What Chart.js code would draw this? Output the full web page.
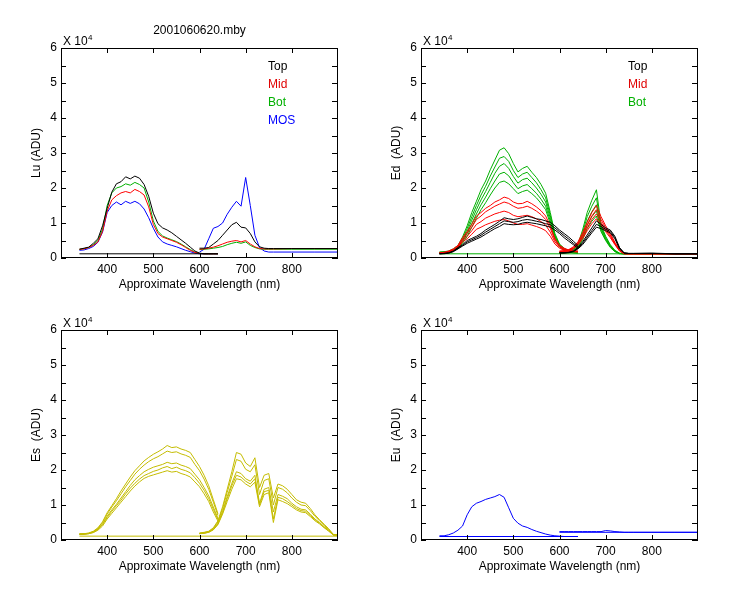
<!DOCTYPE html>
<html>
<head>
<meta charset="utf-8">
<script src="https://cdn.jsdelivr.net/npm/chart.js@4/dist/chart.umd.min.js"></script>
<style>
  body { margin: 0; background: #fff; }
  #wrap { position: relative; width: 750px; height: 600px; }
  canvas { position: absolute; }
</style>
</head>
<body>
<div id="wrap">
  <canvas id="lu" width="375" height="300" style="left:0;top:0"></canvas>
  <canvas id="ed" width="375" height="300" style="left:360px;top:0"></canvas>
  <canvas id="es" width="375" height="300" style="left:0;top:282px"></canvas>
  <canvas id="eu" width="375" height="300" style="left:360px;top:282px"></canvas>
</div>
<script>
// wavelengths (nm), values in units of 10^4 ADU
const wlA = [340,350,360,370,380,390,400,410,420,430,440,450,460,470,480,490,500,510,520,530,540,550,560,570,580,590,600,610,620,630,640];
const wlB = [600,610,620,630,640,650,660,670,680,690,700,710,720,730,740,750,760,770,780,790,800,810,820,830,840,850,860,870,880,890,900];
const wlBs = [600,610,620,630,640,650,660,670,680,690,700,710,720,730,740,750,760,800,850,900];
const xTicks = [400,500,600,700,800];
const yTicks = [0,0.5,1,1.5,2,2.5,3,3.5,4,4.5,5,5.5,6];

// Lu
const luTopA = [0.25,0.28,0.31,0.42,0.55,0.92,1.42,1.88,2.12,2.18,2.32,2.26,2.34,2.28,2.1,1.76,1.28,0.98,0.86,0.8,0.72,0.62,0.52,0.42,0.31,0.2,0.14,0.12,0.12,0.12,0.12];
const luMidA = [0.25,0.26,0.3,0.36,0.46,0.76,1.34,1.66,1.78,1.86,1.9,1.86,1.96,1.9,1.8,1.46,0.96,0.7,0.6,0.55,0.5,0.45,0.38,0.3,0.22,0.16,0.13,0.12,0.12,0.12,0.12];
const luBotA = [0.25,0.27,0.3,0.38,0.5,0.82,1.5,1.86,2.0,2.04,2.12,2.08,2.16,2.1,2.0,1.6,1.06,0.76,0.63,0.57,0.52,0.47,0.4,0.32,0.24,0.17,0.13,0.12,0.12,0.12,0.12];
const luMosA = [0.22,0.23,0.27,0.33,0.45,0.74,1.3,1.5,1.6,1.52,1.62,1.56,1.62,1.55,1.4,1.15,0.85,0.6,0.46,0.4,0.36,0.32,0.27,0.22,0.18,0.14,0.12,0.12,0.12,0.12,0.12];
const luTopB = [0.28,0.28,0.3,0.4,0.5,0.65,0.8,0.95,1.02,0.88,0.86,0.7,0.46,0.32,0.28,0.27,0.27,0.27,0.27,0.27];
const luMidB = [0.25,0.26,0.28,0.31,0.35,0.4,0.45,0.48,0.5,0.46,0.5,0.4,0.32,0.27,0.26,0.26,0.26,0.27,0.27,0.27];
const luBotB = [0.24,0.25,0.26,0.28,0.3,0.33,0.38,0.42,0.45,0.42,0.46,0.36,0.3,0.26,0.25,0.25,0.25,0.25,0.25,0.25];
const luMosB = [0.17,0.25,0.55,0.85,0.9,1.0,1.25,1.45,1.62,1.48,2.3,1.5,0.65,0.3,0.2,0.17,0.17,0.17,0.17,0.17];
const luFlatWl = [340,640];
const luFlat = [0.12,0.12];

// Ed
const edG1A = [0.17,0.18,0.2,0.26,0.36,0.6,0.92,1.3,1.62,1.95,2.2,2.52,2.8,3.08,3.15,2.98,2.7,2.46,2.56,2.62,2.45,2.3,2.1,1.85,1.3,0.7,0.4,0.28,0.2,0.17,0.15];
const edG2A = [0.16,0.17,0.19,0.24,0.33,0.55,0.84,1.18,1.5,1.8,2.05,2.34,2.6,2.85,2.9,2.76,2.5,2.3,2.4,2.45,2.3,2.15,1.95,1.72,1.22,0.66,0.38,0.26,0.19,0.16,0.15];
const edG3A = [0.16,0.17,0.18,0.22,0.3,0.5,0.76,1.08,1.38,1.66,1.9,2.16,2.42,2.62,2.7,2.56,2.33,2.14,2.24,2.28,2.15,2.0,1.82,1.6,1.14,0.62,0.36,0.25,0.19,0.16,0.15];
const edG4A = [0.15,0.16,0.17,0.21,0.28,0.46,0.7,0.98,1.26,1.52,1.74,1.98,2.2,2.4,2.45,2.35,2.15,1.98,2.06,2.1,1.98,1.85,1.68,1.48,1.06,0.58,0.34,0.24,0.18,0.15,0.14];
const edG5A = [0.15,0.15,0.16,0.2,0.26,0.42,0.62,0.88,1.14,1.38,1.58,1.8,2.0,2.16,2.2,2.12,1.98,1.84,1.9,1.94,1.84,1.72,1.56,1.38,0.98,0.54,0.32,0.23,0.17,0.15,0.14];
const edR1A = [0.15,0.16,0.2,0.26,0.36,0.58,0.76,0.96,1.2,1.3,1.42,1.5,1.6,1.66,1.74,1.7,1.6,1.55,1.56,1.62,1.55,1.46,1.35,1.2,0.92,0.56,0.36,0.28,0.23,0.2,0.2];
const edR2A = [0.15,0.16,0.19,0.24,0.34,0.54,0.7,0.88,1.1,1.2,1.32,1.4,1.48,1.54,1.6,1.56,1.48,1.42,1.44,1.48,1.42,1.34,1.24,1.1,0.85,0.52,0.34,0.26,0.22,0.2,0.19];
const edR3A = [0.14,0.15,0.18,0.22,0.31,0.5,0.62,0.78,0.96,1.04,1.14,1.2,1.26,1.3,1.34,1.3,1.22,1.18,1.2,1.22,1.18,1.12,1.04,0.94,0.74,0.46,0.31,0.24,0.2,0.19,0.18];
const edR4A = [0.14,0.15,0.17,0.21,0.29,0.46,0.55,0.68,0.82,0.88,0.95,1.0,1.05,1.08,1.1,1.06,1.0,0.96,0.96,0.98,0.94,0.9,0.85,0.78,0.62,0.4,0.28,0.22,0.19,0.18,0.17];
const edK1A = [0.12,0.13,0.15,0.2,0.3,0.38,0.5,0.56,0.62,0.7,0.8,0.88,0.96,1.05,1.15,1.12,1.1,1.12,1.16,1.2,1.16,1.12,1.1,1.06,1.02,0.92,0.8,0.7,0.6,0.48,0.36];
const edK2A = [0.12,0.13,0.14,0.19,0.28,0.36,0.46,0.52,0.58,0.65,0.74,0.82,0.9,0.98,1.06,1.04,1.02,1.04,1.08,1.1,1.08,1.05,1.02,0.98,0.95,0.86,0.75,0.64,0.54,0.42,0.32];
const edK3A = [0.12,0.12,0.14,0.18,0.26,0.34,0.42,0.48,0.54,0.6,0.68,0.76,0.84,0.9,0.98,0.96,0.95,0.96,1.0,1.02,1.0,0.98,0.95,0.92,0.88,0.8,0.7,0.58,0.48,0.38,0.28];
const edG1B = [0.15,0.17,0.2,0.26,0.4,0.8,1.3,1.65,1.95,0.95,0.62,0.38,0.22,0.14,0.12,0.12,0.12,0.12,0.12,0.12];
const edG2B = [0.15,0.16,0.19,0.24,0.36,0.72,1.18,1.48,1.72,0.9,0.58,0.36,0.2,0.13,0.12,0.12,0.12,0.12,0.12,0.12];
const edG3B = [0.14,0.16,0.18,0.23,0.33,0.65,1.05,1.32,1.52,0.85,0.55,0.34,0.2,0.13,0.12,0.12,0.12,0.12,0.12,0.12];
const edG4B = [0.14,0.15,0.17,0.21,0.3,0.58,0.94,1.18,1.35,0.8,0.52,0.32,0.19,0.13,0.12,0.12,0.12,0.12,0.12,0.12];
const edG5B = [0.14,0.15,0.16,0.2,0.28,0.52,0.84,1.05,1.2,0.75,0.5,0.3,0.18,0.12,0.12,0.12,0.12,0.12,0.12,0.12];
const edR1B = [0.2,0.21,0.24,0.32,0.46,0.72,1.02,1.3,1.5,1.18,0.92,0.7,0.45,0.24,0.13,0.12,0.12,0.12,0.12,0.12];
const edR2B = [0.19,0.2,0.23,0.3,0.43,0.66,0.94,1.2,1.38,1.1,0.86,0.66,0.42,0.22,0.13,0.12,0.12,0.12,0.12,0.12];
const edR3B = [0.18,0.19,0.22,0.28,0.4,0.6,0.86,1.1,1.26,1.02,0.8,0.62,0.4,0.21,0.12,0.12,0.12,0.12,0.12,0.12];
const edR4B = [0.17,0.18,0.2,0.26,0.37,0.55,0.78,0.98,1.12,0.95,0.75,0.58,0.38,0.2,0.12,0.12,0.12,0.12,0.12,0.12];
const edK1B = [0.15,0.15,0.16,0.2,0.3,0.46,0.66,0.86,1.06,0.96,0.86,0.8,0.62,0.3,0.15,0.13,0.13,0.13,0.12,0.12];
const edK2B = [0.15,0.15,0.16,0.19,0.28,0.42,0.6,0.78,0.96,0.9,0.82,0.76,0.58,0.28,0.14,0.13,0.13,0.14,0.12,0.12];
const edK3B = [0.14,0.14,0.15,0.18,0.26,0.38,0.55,0.72,0.88,0.84,0.78,0.72,0.55,0.26,0.14,0.13,0.13,0.13,0.12,0.12];
const edFlatWl = [340,900];
const edFlat = [0.12,0.12];

// Es
const esY1A = [0.18,0.18,0.2,0.25,0.35,0.52,0.78,0.98,1.18,1.4,1.6,1.8,1.98,2.12,2.26,2.36,2.45,2.52,2.6,2.7,2.64,2.66,2.6,2.56,2.5,2.3,2.1,1.85,1.55,1.15,0.75];
const esY2A = [0.17,0.18,0.19,0.24,0.33,0.5,0.74,0.94,1.12,1.32,1.52,1.7,1.88,2.02,2.14,2.24,2.32,2.38,2.46,2.54,2.5,2.52,2.46,2.42,2.36,2.16,1.98,1.74,1.45,1.08,0.7];
const esY3A = [0.17,0.17,0.19,0.23,0.31,0.46,0.68,0.86,1.02,1.2,1.38,1.56,1.72,1.84,1.95,2.02,2.08,2.12,2.16,2.22,2.18,2.2,2.14,2.1,2.04,1.88,1.72,1.5,1.26,0.94,0.62];
const esY4A = [0.16,0.17,0.18,0.22,0.3,0.44,0.64,0.82,0.98,1.14,1.32,1.48,1.62,1.74,1.84,1.9,1.96,2.0,2.06,2.1,2.04,2.08,2.02,1.98,1.92,1.78,1.62,1.42,1.18,0.88,0.58];
const esY5A = [0.16,0.16,0.18,0.21,0.28,0.4,0.6,0.76,0.92,1.08,1.24,1.4,1.54,1.66,1.76,1.82,1.86,1.9,1.94,1.98,1.94,1.96,1.9,1.86,1.8,1.66,1.52,1.32,1.1,0.8,0.54];
const esY1B = [0.2,0.22,0.25,0.35,0.55,0.95,1.45,1.95,2.5,2.45,2.2,2.1,2.35,1.5,1.85,1.9,1.2,1.6,1.55,1.45,1.3,1.15,1.08,1.05,0.9,0.72,0.58,0.45,0.32,0.16,0.15];
const esY2B = [0.19,0.21,0.24,0.33,0.52,0.9,1.36,1.82,2.3,2.25,2.02,1.95,2.15,1.3,1.7,1.75,1.0,1.5,1.45,1.35,1.2,1.08,1.0,0.98,0.84,0.68,0.55,0.42,0.3,0.15,0.15];
const esY3B = [0.19,0.2,0.23,0.31,0.48,0.82,1.24,1.62,1.95,1.9,1.75,1.68,1.85,1.05,1.45,1.5,0.8,1.3,1.25,1.18,1.05,0.95,0.88,0.86,0.74,0.6,0.5,0.38,0.28,0.15,0.14];
const esY4B = [0.18,0.2,0.22,0.3,0.46,0.78,1.18,1.55,1.85,1.8,1.68,1.6,1.75,1.0,1.38,1.42,0.6,1.22,1.18,1.1,1.0,0.9,0.84,0.82,0.7,0.58,0.48,0.36,0.26,0.14,0.14];
const esY5B = [0.18,0.19,0.22,0.29,0.44,0.74,1.1,1.45,1.75,1.72,1.6,1.52,1.65,0.95,1.3,1.35,0.5,1.15,1.1,1.04,0.95,0.86,0.8,0.78,0.67,0.55,0.46,0.35,0.25,0.14,0.14];
const esFlatWl = [340,900];
const esFlat = [0.11,0.11];

// Eu
const euA = [0.12,0.12,0.15,0.2,0.28,0.4,0.72,0.95,1.05,1.1,1.16,1.2,1.24,1.3,1.22,0.92,0.62,0.48,0.4,0.36,0.3,0.25,0.21,0.17,0.14,0.12,0.11,0.1,0.1,0.1,0.1];
const euB = [0.24,0.24,0.24,0.24,0.24,0.24,0.24,0.24,0.24,0.24,0.27,0.26,0.24,0.23,0.22,0.22,0.22,0.22,0.22,0.22];
const euFlatAWl = [340,640];
const euFlatA = [0.1,0.1];
const euFlatBWl = [600,900];
const euFlatB = [0.22,0.22];

const BLACK = '#000000', RED = '#ff0000', GREEN = '#00b000', BLUE = '#0000ff', YELLOW = '#c4bc00';

Chart.defaults.font.family = "'Liberation Sans', Arial, sans-serif";
Chart.defaults.font.size = 12;
Chart.defaults.color = '#000';

function line(wl, ys, color) {
  return {
    data: wl.map((w, i) => ({x: w, y: ys[i]})),
    borderColor: color,
    borderWidth: 1,
    pointRadius: 0,
    tension: 0,
    fill: false
  };
}

// frame with inward ticks, plus the loose text bits
const framePlugin = {
  id: 'frame',
  afterDraw(chart, args, opts) {
    const {ctx, chartArea: a, scales: {x, y}} = chart;
    ctx.save();
    ctx.strokeStyle = '#000';
    ctx.lineWidth = 1;
    ctx.strokeRect(a.left + 0.5, a.top + 0.5, a.right - a.left - 1, a.bottom - a.top - 1);
    ctx.beginPath();
    for (const v of yTicks) {
      const py = Math.round(y.getPixelForValue(v)) + 0.5;
      ctx.moveTo(a.left, py); ctx.lineTo(a.left + 5, py);
      ctx.moveTo(a.right, py); ctx.lineTo(a.right - 6, py);
    }
    for (const v of xTicks) {
      const px = Math.round(x.getPixelForValue(v)) + 0.5;
      ctx.moveTo(px, a.top); ctx.lineTo(px, a.top + 5);
      ctx.moveTo(px, a.bottom); ctx.lineTo(px, a.bottom - 5);
    }
    ctx.stroke();

    ctx.fillStyle = '#000';
    ctx.textBaseline = 'alphabetic';
    ctx.font = "12px 'Liberation Sans', Arial, sans-serif";
    ctx.textAlign = 'left';
    ctx.fillText('X 10', a.left + 2, a.top - 3);
    ctx.font = "8px 'Liberation Sans', Arial, sans-serif";
    ctx.fillText('4', a.left + 27, a.top - 8);

    ctx.font = "12px 'Liberation Sans', Arial, sans-serif";
    if (opts.title) {
      ctx.textAlign = 'center';
      ctx.fillText(opts.title, (a.left + a.right) / 2, a.top - 14);
    }
    ctx.textAlign = 'left';
    ctx.textBaseline = 'middle';
    (opts.legend || []).forEach((item, i) => {
      ctx.fillStyle = item[1];
      ctx.fillText(item[0], a.left + 207, a.top + 19 + i * 18);
    });
    ctx.restore();
  }
};

function panel(id, yTitle, datasets, frameOpts) {
  return new Chart(document.getElementById(id), {
    type: 'line',
    data: {datasets},
    options: {
      responsive: false,
      animation: false,
      layout: {padding: {left: 0, top: 48, right: 37, bottom: 0}},
      plugins: {legend: {display: false}, tooltip: {enabled: false}, frame: frameOpts},
      scales: {
        x: {
          type: 'linear', min: 300, max: 900,
          grid: {display: false, drawTicks: false}, border: {display: false},
          ticks: {stepSize: 100, autoSkip: false, maxRotation: 0, padding: 4,
                  callback: v => xTicks.includes(v) ? v : ''},
          title: {display: true, text: 'Approximate Wavelength (nm)', padding: {top: 0, bottom: 8}},
          afterFit: s => { s.height = 42; }
        },
        y: {
          min: 0, max: 6,
          grid: {display: false, drawTicks: false}, border: {display: false},
          ticks: {stepSize: 1, padding: 4},
          title: {display: true, text: yTitle, padding: {top: 29, bottom: 0}},
          afterFit: s => { s.width = 61; }
        }
      }
    },
    plugins: [framePlugin]
  });
}

panel('lu', 'Lu (ADU)', [
  line(wlA, luTopA, BLACK), line(wlBs, luTopB, BLACK), line(luFlatWl, luFlat, BLACK),
  line(wlA, luMidA, RED), line(wlBs, luMidB, RED),
  line(wlA, luBotA, GREEN), line(wlBs, luBotB, GREEN),
  line(wlA, luMosA, BLUE), line(wlBs, luMosB, BLUE)
], {title: '2001060620.mby', legend: [['Top', BLACK], ['Mid', '#e00000'], ['Bot', '#00b000'], ['MOS', BLUE]]});

panel('ed', 'Ed  (ADU)', [
  line(wlA, edK1A, BLACK), line(wlA, edK2A, BLACK), line(wlA, edK3A, BLACK),
  line(wlBs, edK1B, BLACK), line(wlBs, edK2B, BLACK), line(wlBs, edK3B, BLACK),
  line(wlA, edR1A, RED), line(wlA, edR2A, RED), line(wlA, edR3A, RED), line(wlA, edR4A, RED),
  line(wlBs, edR1B, RED), line(wlBs, edR2B, RED), line(wlBs, edR3B, RED), line(wlBs, edR4B, RED),
  line(wlA, edG1A, GREEN), line(wlA, edG2A, GREEN), line(wlA, edG3A, GREEN), line(wlA, edG4A, GREEN), line(wlA, edG5A, GREEN),
  line(wlBs, edG1B, GREEN), line(wlBs, edG2B, GREEN), line(wlBs, edG3B, GREEN), line(wlBs, edG4B, GREEN), line(wlBs, edG5B, GREEN),
  line(edFlatWl, edFlat, GREEN)
], {legend: [['Top', BLACK], ['Mid', '#e00000'], ['Bot', '#00b000']]});

panel('es', 'Es  (ADU)', [
  line(wlA, esY1A, YELLOW), line(wlA, esY2A, YELLOW), line(wlA, esY3A, YELLOW), line(wlA, esY4A, YELLOW), line(wlA, esY5A, YELLOW),
  line(wlB, esY1B, YELLOW), line(wlB, esY2B, YELLOW), line(wlB, esY3B, YELLOW), line(wlB, esY4B, YELLOW), line(wlB, esY5B, YELLOW),
  line(esFlatWl, esFlat, YELLOW)
], {});

panel('eu', 'Eu  (ADU)', [
  line(wlA, euA, BLUE), line(wlBs, euB, BLUE),
  line(euFlatAWl, euFlatA, BLUE), line(euFlatBWl, euFlatB, BLUE)
], {});
</script>
</body>
</html>
